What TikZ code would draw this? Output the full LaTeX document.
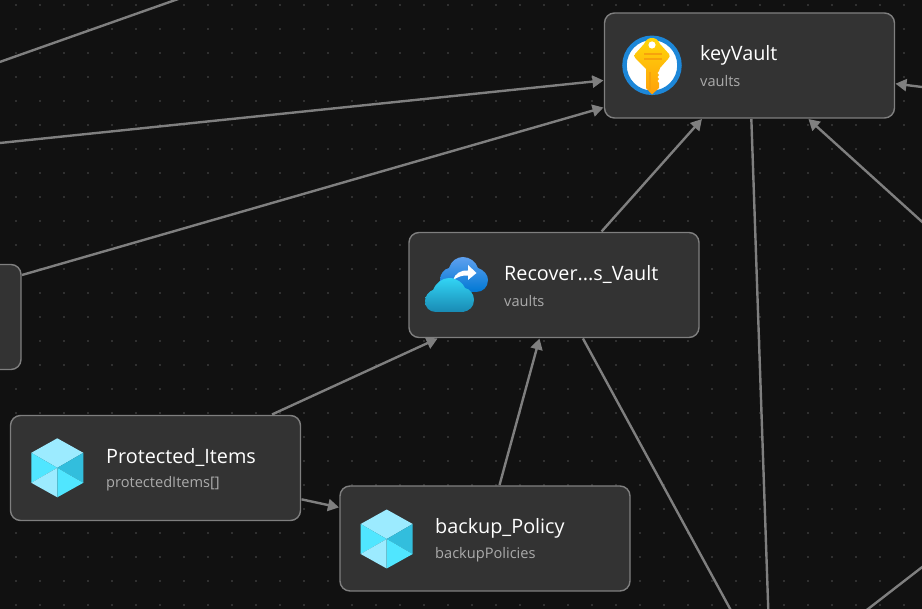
\documentclass[tikz,border=0pt]{standalone}
\usepackage{fontspec}
\setmainfont{Open Sans}
\usetikzlibrary{arrows.meta}
\definecolor{canvasbg}{HTML}{111111}
\definecolor{griddot}{HTML}{505050}
\definecolor{boxfill}{HTML}{333333}
\definecolor{boxline}{HTML}{7F7F7F}
\definecolor{typegray}{HTML}{ABABAB}
\definecolor{cubelight}{HTML}{9CEBFF}
\definecolor{cubemid}{HTML}{50E6FF}
\definecolor{cubedark}{HTML}{32BEDD}
\definecolor{keyring}{HTML}{1D87D8}
\definecolor{keyorange}{HTML}{F7A30C}
\tikzset{
    vaultbox/.style={draw=boxline, fill=boxfill, line width=1.4pt, rounded corners=10pt, minimum width=290pt, minimum height=105pt, outer sep=1pt},
    nametext/.style={anchor=west, inner sep=0pt, text=white, font=\fontsize{19.8}{24}\selectfont},
    typetext/.style={anchor=west, inner sep=0pt, text=typegray, font=\fontsize{14.6}{17}\selectfont},
    linkline/.style={draw=boxline, line width=2.4pt},
    linkarrow/.style={linkline, -{Triangle[length=11pt,width=12pt]}},
}
\newcommand{\cubeicon}[2]{
    \fill[cubelight] (#1,#2-29.5) -- (#1+26,#2-15) -- (#1,#2) -- (#1-26,#2-15) -- cycle;
    \fill[cubemid] (#1-26,#2-15) -- (#1,#2) -- (#1-26,#2+15) -- cycle;
    \fill[cubedark] (#1+26,#2-15) -- (#1,#2) -- (#1+26,#2+15) -- cycle;
    \fill[cubelight] (#1,#2) -- (#1-26,#2+15) -- (#1,#2+29.5) -- cycle;
    \fill[cubemid] (#1,#2) -- (#1+26,#2+15) -- (#1,#2+29.5) -- cycle;
}
\begin{document}
\begin{tikzpicture}[x=1pt, y=-1pt]
    \clip (0,0) rectangle (922,609);
    \fill[canvasbg] (0,0) rectangle (922,609);
    \foreach \dotx in {16,40,...,904}
        \foreach \doty in {5,29,...,605}
            \fill[griddot] (\dotx,\doty) circle (0.8);

    \node[vaultbox] (keyVault) at (749.5,65.5) {};
    \node[vaultbox] (recoveryVault) at (554,285) {};
    \node[vaultbox] (protectedItems) at (155.5,468) {};
    \node[vaultbox] (backupPolicy) at (485,538.5) {};
    \node[vaultbox] (leftBox) at (-124,317) {};

    \coordinate (topLeftA) at (-6,64);
    \coordinate (topLeftB) at (181,-2);
    \coordinate (leftEdge) at (-6,143.6);
    \coordinate (rightTop) at (930,88);
    \coordinate (rightMid) at (930,229);
    \coordinate (bottomA) at (734,616);
    \coordinate (bottomB) at (768.5,616);
    \coordinate (bottomC) at (930,561);
    \coordinate (bottomD) at (859,616);

    \draw[linkline] (topLeftA) -- (topLeftB);
    \draw[linkline] (bottomC) -- (bottomD);
    \draw[linkarrow] (leftEdge) -- (keyVault);
    \draw[linkarrow] (leftBox) -- (keyVault);
    \draw[linkarrow] (recoveryVault) -- (keyVault);
    \draw[linkarrow] (rightTop) -- (keyVault);
    \draw[linkarrow] (rightMid) -- (keyVault);
    \draw[linkline] (keyVault) -- (bottomB);
    \draw[linkline] (recoveryVault) -- (bottomA);
    \draw[linkarrow] (protectedItems) -- (recoveryVault);
    \draw[linkarrow] (protectedItems) -- (backupPolicy);
    \draw[linkarrow] (backupPolicy) -- (recoveryVault);

    \node[nametext] (keyVaultName) at (700,55) {keyVault};
    \node[typetext] (keyVaultType) at (700,81) {vaults};
    \node[nametext] (recoveryName) at (504,274.5) {Recover...s\_Vault};
    \node[typetext] (recoveryType) at (504,301) {vaults};
    \node[nametext] (protectedName) at (106,457.5) {Protected\_Items};
    \node[typetext] (protectedType) at (106,484) {protectedItems[]};
    \node[nametext] (backupName) at (435,528) {backup\_Policy};
    \node[typetext] (backupType) at (435,554.5) {backupPolicies};

    % key icon
    \fill[white] (652,65.3) circle (28);
    \draw[draw=keyring, line width=4.5pt] (652,65.3) circle (27.5);
    \path[top color={rgb,255:red,255;green,214;blue,10}, bottom color={rgb,255:red,255;green,160;blue,10}]
        (652,38) .. controls (656,38) and (658,40) .. (660,44) -- (669,54) .. controls (670,56) and (670,57) .. (668,59)
        -- (660,68) -- (659,71) -- (657.5,73) -- (659,75) -- (657.5,77) -- (659,79) -- (657.5,81) -- (659,83) -- (659,88) -- (652,94.5) -- (646,88) -- (646,69)
        -- (636,59) .. controls (634,57) and (634,56) .. (635,54) -- (644,44) .. controls (646,40) and (648,38) .. (652,38) -- cycle;
    \fill[white] (652,45) circle (3.6);
    \fill[keyorange] (644,53.5) rectangle (662,55);
    \fill[keyorange] (644,58.5) rectangle (662,60);
    \fill[keyorange] (648.5,72) rectangle (650.5,90);

    % recovery cloud icon
    \path[top color={rgb,255:red,94;green,160;blue,239}, bottom color={rgb,255:red,0;green,120;blue,212}]
        (448,292) .. controls (443,291) and (440,286) .. (440,280) .. controls (440,274) and (444,269) .. (449,268)
        .. controls (451,261) and (457,257) .. (463,257) .. controls (470,257) and (476,262) .. (478,268)
        .. controls (484,270) and (488,275) .. (488,280) .. controls (488,287) and (483,292) .. (476,292) -- cycle;
    \fill[white] (453,280) .. controls (455,274) and (460,270) .. (468,270.5) -- (468,265) -- (476.5,273) -- (468,280) -- (468,275.5) .. controls (462,275) and (458,277) .. (453,280) -- cycle;
    \path[top color={rgb,255:red,50;green,212;blue,245}, bottom color={rgb,255:red,25;green,138;blue,179}]
        (436,312) .. controls (429,312) and (425,307) .. (425,301) .. controls (425,296) and (429,291) .. (433,290)
        .. controls (436,283) and (442,278) .. (449,278) .. controls (457,278) and (463,283) .. (465,288)
        .. controls (470,289) and (474,294) .. (474,300) .. controls (474,307) and (469,311) .. (463,312) -- cycle;

    \cubeicon{57.3}{467.8}
    \cubeicon{386.7}{539}
\end{tikzpicture}
\end{document}
